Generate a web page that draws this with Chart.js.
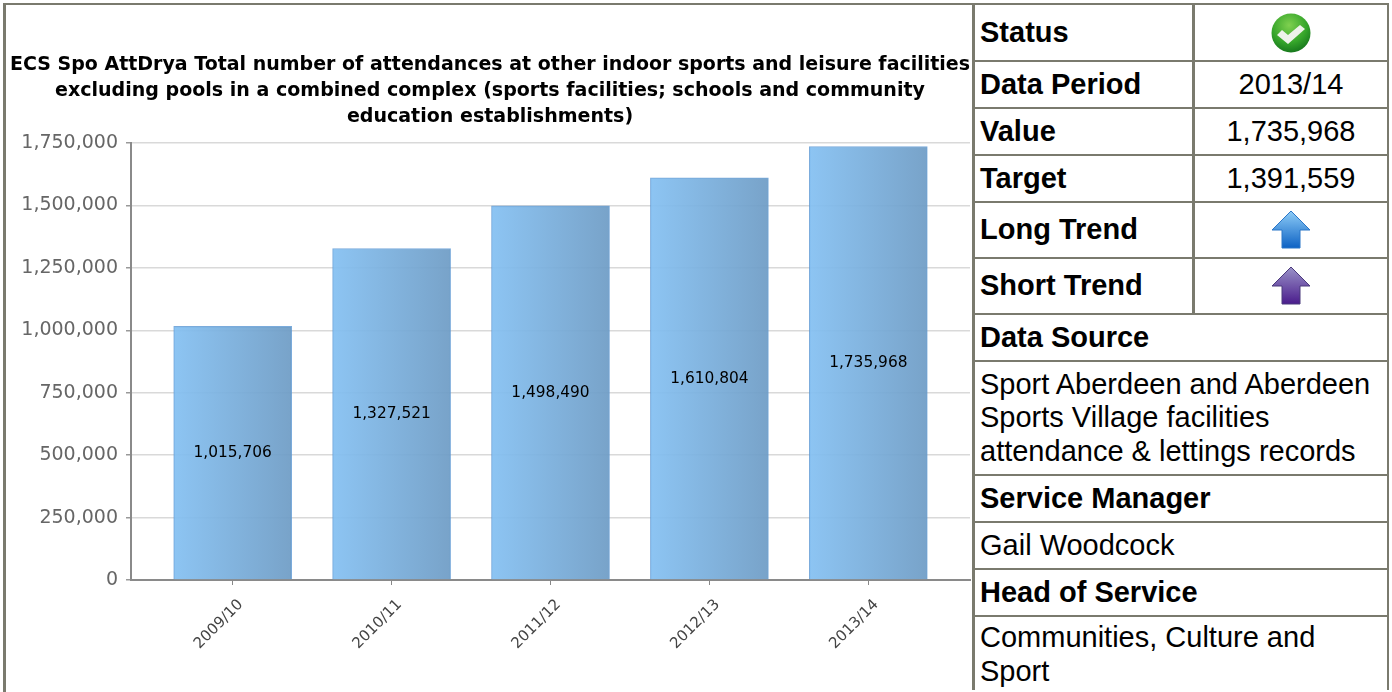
<!DOCTYPE html>
<html>
<head>
<meta charset="utf-8">
<script src="https://cdn.jsdelivr.net/npm/chart.js@4"></script>
<style>
  html, body { margin: 0; padding: 0; background: #fff; overflow: hidden; }
  body { width: 1392px; height: 692px; position: relative; }
  #frame { position: absolute; left: 3px; top: 3px; width: 1386px; height: 689px; border-top: 2px solid #7a7a6e; border-left: 3px solid #7a7a6e; box-sizing: border-box; }
  #chartBox { position: absolute; left: 10px; top: 0; width: 962px; height: 692px; }
  table { position: absolute; left: 972px; top: 3px; width: 417px; border-collapse: separate; border-spacing: 0; table-layout: fixed; font-family: "Liberation Sans", Arial, sans-serif; font-size: 29px; color: #000; }
  td { border-left: 3px solid #7a7a6e; border-top: 2px solid #7a7a6e; padding: 0 0 0 5px; box-sizing: border-box; line-height: 33.6px; vertical-align: middle; overflow: hidden; }
  tr td:last-child { border-right: 2px solid #7a7a6e; }
  td.head { font-weight: bold; }
  td.mid { text-align: center; padding: 0; }
  td svg { display: block; margin: 0 auto; }
</style>
</head>
<body>
<div id="frame"></div>
<div id="chartBox"><canvas id="chart" width="962" height="692"></canvas></div>
<table>
  <colgroup><col style="width:220px"><col style="width:197px"></colgroup>
  <tr style="height:57px"><td class="head">Status</td><td class="mid">
    <svg width="40" height="40" viewBox="0 0 40 40"><defs><radialGradient id="g" cx="45%" cy="30%" r="75%"><stop offset="0" stop-color="#7fd04f"/><stop offset="0.6" stop-color="#35a52a"/><stop offset="1" stop-color="#12701a"/></radialGradient></defs><circle cx="20" cy="20" r="19.5" fill="url(#g)"/><path d="M6 22l5-5 6 5 12-10 5 4-17 15z" fill="#eef2ea"/></svg>
  </td></tr>
  <tr style="height:47px"><td class="head">Data Period</td><td class="mid">2013/14</td></tr>
  <tr style="height:47px"><td class="head">Value</td><td class="mid">1,735,968</td></tr>
  <tr style="height:47px"><td class="head">Target</td><td class="mid">1,391,559</td></tr>
  <tr style="height:56px"><td class="head">Long Trend</td><td class="mid">
    <svg width="40" height="40" viewBox="0 0 40 40"><defs><linearGradient id="b" x1="0" y1="0" x2="0" y2="1"><stop offset="0" stop-color="#8fcdf7"/><stop offset="1" stop-color="#0d62c4"/></linearGradient></defs><path d="M20 1L39 20H29V38H11V20H1z" fill="url(#b)" stroke="#2a76c8"/></svg>
  </td></tr>
  <tr style="height:56px"><td class="head">Short Trend</td><td class="mid">
    <svg width="40" height="40" viewBox="0 0 40 40"><defs><linearGradient id="p" x1="0" y1="0" x2="0" y2="1"><stop offset="0" stop-color="#9a93c8"/><stop offset="1" stop-color="#4a1c8c"/></linearGradient></defs><path d="M20 1L39 20H29V38H11V20H1z" fill="url(#p)" stroke="#4b3a7c"/></svg>
  </td></tr>
  <tr style="height:47px"><td class="head" colspan="2" style="border-right:2px solid #7a7a6e">Data Source</td></tr>
  <tr style="height:114px"><td colspan="2" style="border-right:2px solid #7a7a6e">Sport Aberdeen and Aberdeen Sports Village facilities attendance &amp; lettings records</td></tr>
  <tr style="height:47px"><td class="head" colspan="2" style="border-right:2px solid #7a7a6e">Service Manager</td></tr>
  <tr style="height:47px"><td colspan="2" style="border-right:2px solid #7a7a6e">Gail Woodcock</td></tr>
  <tr style="height:47px"><td class="head" colspan="2" style="border-right:2px solid #7a7a6e">Head of Service</td></tr>
  <tr style="height:75px"><td colspan="2" style="border-right:2px solid #7a7a6e;vertical-align:top;padding-top:4px">Communities, Culture and Sport</td></tr>
</table>
<script>
const titleLines = [
  'ECS Spo AttDrya Total number of attendances at other indoor sports and leisure facilities',
  'excluding pools in a combined complex (sports facilities; schools and community',
  'education establishments)'
];
const categories = ['2009/10', '2010/11', '2011/12', '2012/13', '2013/14'];
const attendances = [1015706, 1327521, 1498490, 1610804, 1735968];

const fmt = n => n.toLocaleString('en-GB');

const barGradient = ctx => {
  const x = ctx.chart.scales.x;
  const mid = x && ctx.dataIndex !== undefined ? x.getPixelForValue(ctx.dataIndex) : NaN;
  if (!isFinite(mid)) return '#8ec4f2';
  const g = ctx.chart.ctx.createLinearGradient(mid - 59, 0, mid + 59, 0);
  g.addColorStop(0, 'rgba(132,192,242,0.93)');
  g.addColorStop(1, 'rgba(110,156,197,0.93)');
  return g;
};

// values printed in the middle of each bar
const barLabels = {
  id: 'barLabels',
  afterDatasetsDraw(chart) {
    const c = chart.ctx;
    c.save();
    c.font = '15.4px "DejaVu Sans"';
    c.fillStyle = '#000';
    c.textAlign = 'center';
    c.textBaseline = 'middle';
    chart.getDatasetMeta(0).data.forEach((bar, i) => {
      c.fillText(fmt(attendances[i]), bar.x, (bar.y + bar.base) / 2);
    });
    c.restore();
  }
};

new Chart(document.getElementById('chart').getContext('2d'), {
  type: 'bar',
  data: {
    datasets: [{
      data: attendances.map((v, i) => ({ x: i, y: v })),
      backgroundColor: barGradient,
      borderColor: 'rgba(90,150,210,0.8)',
      borderWidth: 1,
      barThickness: 118
    }]
  },
  plugins: [barLabels],
  options: {
    responsive: false,
    animation: false,
    layout: { padding: { top: 0, right: 2, left: 0, bottom: 0 } },
    plugins: {
      legend: { display: false },
      tooltip: { enabled: false },
      title: {
        display: true,
        text: titleLines,
        color: '#000',
        font: { family: '"DejaVu Sans"', size: 19.05, weight: 'bold', lineHeight: 1.365 },
        padding: { top: 52, bottom: 13 }
      }
    },
    scales: {
      x: {
        type: 'linear',
        offset: false,
        bounds: 'data',
        min: -0.64,
        max: 4.64,
        afterBuildTicks: scale => { scale.ticks = categories.map((_, i) => ({ value: i })); },
        afterFit: scale => { scale.height = 112; },
        grid: { offset: false, drawOnChartArea: false, tickLength: 5, tickColor: '#888', tickWidth: 1 },
        border: { color: '#8a8a8a', width: 2 },
        ticks: {
          autoSkip: false,
          minRotation: 45,
          maxRotation: 45,
          padding: 11,
          labelOffset: 8,
          color: '#444',
          font: { family: '"DejaVu Sans"', size: 15 },
          callback: value => categories[value]
        }
      },
      y: {
        min: 0,
        max: 1750000,
        afterFit: scale => { scale.width = 121; },
        grid: { color: '#d9d9d9', tickColor: '#999', tickLength: 5, lineWidth: 1.5 },
        border: { color: '#8a8a8a', width: 2 },
        ticks: {
          stepSize: 250000,
          padding: 8,
          color: '#666',
          font: { family: '"DejaVu Sans"', size: 19 },
          callback: value => fmt(value)
        }
      }
    }
  }
});
</script>
</body>
</html>
